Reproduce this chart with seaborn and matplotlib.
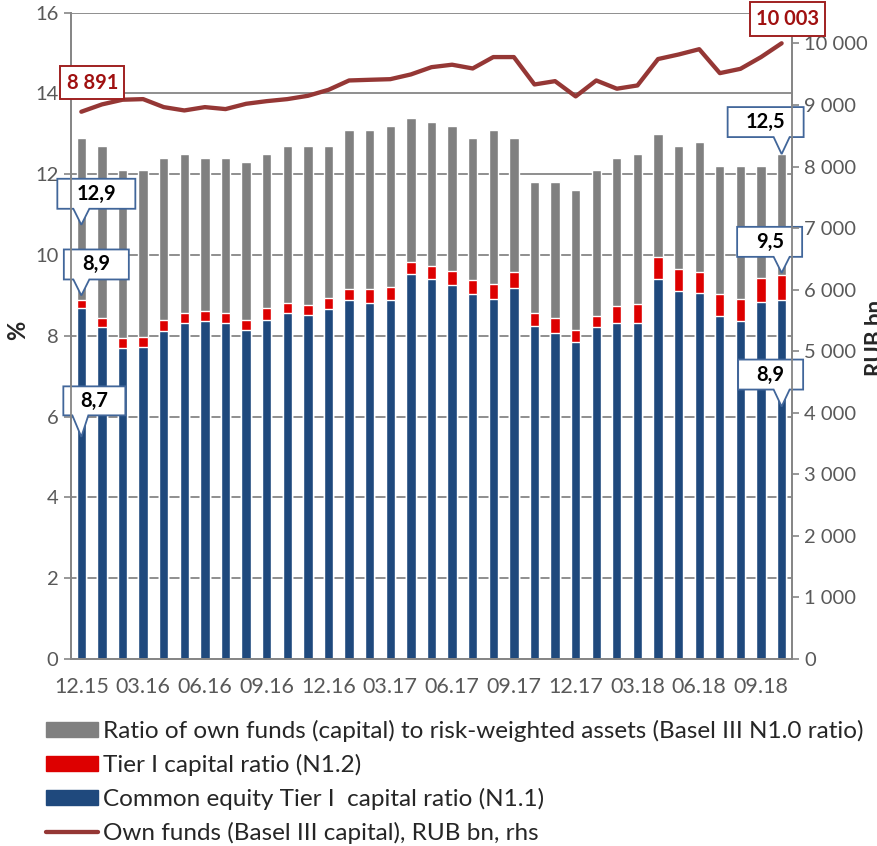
import numpy as np
import matplotlib
matplotlib.use("Agg")
import matplotlib.pyplot as plt
import seaborn as sns
from matplotlib.path import Path
from matplotlib.patches import Patch
from matplotlib.lines import Line2D

# monthly data, 12.15 - 10.18
months = ["12.15", "01.16", "02.16", "03.16", "04.16", "05.16", "06.16", "07.16",
          "08.16", "09.16", "10.16", "11.16", "12.16", "01.17", "02.17", "03.17",
          "04.17", "05.17", "06.17", "07.17", "08.17", "09.17", "10.17", "11.17",
          "12.17", "01.18", "02.18", "03.18", "04.18", "05.18", "06.18", "07.18",
          "08.18", "09.18", "10.18"]
n10 = [12.9, 12.7, 12.1, 12.1, 12.4, 12.5, 12.4, 12.4, 12.3, 12.5, 12.7, 12.7,
       12.7, 13.1, 13.1, 13.2, 13.4, 13.3, 13.2, 12.9, 13.1, 12.9, 11.8, 11.8,
       11.6, 12.1, 12.4, 12.5, 13.0, 12.7, 12.8, 12.2, 12.2, 12.2, 12.5]
n12 = [8.9, 8.45, 7.94, 7.97, 8.39, 8.57, 8.62, 8.57, 8.4, 8.7, 8.81, 8.76,
       8.94, 9.17, 9.17, 9.21, 9.84, 9.74, 9.61, 9.39, 9.29, 9.59, 8.57, 8.44,
       8.15, 8.48, 8.75, 8.79, 9.94, 9.66, 9.59, 9.03, 8.92, 9.43, 9.5]
n11 = [8.7, 8.21, 7.69, 7.73, 8.13, 8.31, 8.38, 8.31, 8.15, 8.4, 8.56, 8.51,
       8.66, 8.9, 8.82, 8.89, 9.54, 9.41, 9.25, 9.03, 8.92, 9.19, 8.24, 8.07,
       7.84, 8.21, 8.31, 8.32, 9.41, 9.11, 9.05, 8.48, 8.38, 8.85, 8.9]
own_funds = [8891, 9010, 9086, 9096, 8966, 8912, 8966, 8934, 9020, 9063, 9096, 9150,
             9247, 9399, 9410, 9420, 9497, 9615, 9655, 9594, 9779, 9779, 9334, 9388,
             9140, 9399, 9265, 9318, 9747, 9821, 9907, 9518, 9588, 9779, 10003]

GRAY, RED, BLUE, LINE = "#808080", "#dd0000", "#1f497d", "#953735"
TXT = "#595959"

sns.set_style("white")
plt.rcParams["font.family"] = ["Lato", "DejaVu Sans"]

fig = plt.figure(figsize=(8.77, 8.46), dpi=100)
ax = fig.add_axes([0.081, 0.221, 0.822, 0.764])

for vals, col in [(n10, GRAY), (n12, RED), (n11, BLUE)]:
    sns.barplot(x=months, y=vals, color=col, saturation=1, width=0.45,
                ax=ax, zorder=2)

ax2 = ax.twinx()
sns.lineplot(x=np.arange(len(months)), y=own_funds, color=LINE, lw=3.1, ax=ax2)

ax.set_xlim(-0.5, len(months) - 0.5)
ax.set_ylim(0, 16)
ax.set_yticks(np.arange(0, 17, 2))
ax2.set_ylim(0, 10500)
ax2.set_yticks(np.arange(0, 10001, 1000))
ax2.set_yticklabels([f"{v:,}".replace(",", " ") for v in range(0, 10001, 1000)])

# ticks between categories, labels on every third category
ax.set_xticks(np.arange(-0.5, len(months) - 1, 3))
ax.set_xticklabels([])
ax.set_xticks(np.arange(0, len(months), 3), minor=True)
ax.set_xticklabels(months[::3], minor=True)
ax.tick_params(axis="x", which="major", length=6, width=1.2, color="#868686", direction="out")
ax.tick_params(axis="x", which="minor", length=0, pad=13, labelsize=15.5, labelcolor=TXT)
ax.tick_params(axis="y", length=5, width=1.2, color="#868686", labelsize=14.5,
               labelcolor=TXT, pad=4)
ax2.tick_params(axis="y", length=5, width=1.2, color="#868686", labelsize=14.5,
                labelcolor=TXT, pad=4)

ax.set_axisbelow(True)
ax.yaxis.grid(True, color="#868686", lw=1.3)
for a in (ax, ax2):
    a.set_xlabel("")
    a.set_ylabel("")
    a.spines["top"].set_visible(False)
    for s in ("left", "right", "bottom"):
        a.spines[s].set_color("#868686")
        a.spines[s].set_linewidth(1.3)

fig.text(0.02, 0.61, "%", rotation=90, fontsize=17, fontweight="bold",
         ha="center", va="center")
fig.text(0.986, 0.60, "RUB bn", rotation=90, fontsize=16, fontweight="bold",
         ha="left", va="center")


def callout_style(w, h, tip_dx=0, tip_len=0, base_dx=0, base_w=16):
    def style(x0, y0, width, height, mutation_size):
        cx, cy = x0 + width / 2, y0 + height / 2
        l, r, b, t = cx - w / 2, cx + w / 2, cy - h / 2, cy + h / 2
        verts = [(l, b), (l, t), (r, t), (r, b)]
        if tip_len:
            bc = cx + base_dx
            verts += [(bc + base_w / 2, b), (cx + tip_dx, b - tip_len), (bc - base_w / 2, b)]
        verts += [(l, b), (l, b)]
        return Path(verts, closed=True)
    return style


def fmt(v):
    return f"{v:.1f}".replace(".", ",")


# bar callouts: (text, bar index, tip y, dx, dy, box w, box h, base dx)
callouts = [
    (fmt(n10[0]), 0, 10.75, 15, 31, 78, 30, -15),
    (fmt(n12[0]), 0, 9.0, 15, 31, 65, 30, -15),
    (fmt(n11[0]), 0, 5.5, 13, 36, 62, 29, -14),
    (fmt(n10[-1]), 34, 12.5, -16, 32, 76, 30, 16),
    (fmt(n12[-1]), 34, 9.56, -12, 31, 65, 30, 12),
    (fmt(n11[-1]), 34, 6.25, -11, 32, 65, 30, 11),
]
for text, i, ty, dx, dy, w, h, bdx in callouts:
    ax.annotate(text, xy=(i, ty), xytext=(dx, dy), textcoords="offset pixels",
                ha="center", va="center", fontsize=14.5, fontweight="bold",
                color="black", annotation_clip=False, zorder=5,
                bbox=dict(boxstyle=callout_style(w, h, -dx, dy - h / 2, bdx),
                          fc="white", ec="#41669a", lw=1.3))

for i, dx, dy, w, h in [(0, 11, 29, 64, 33), (len(months) - 1, 6, 24, 75, 34)]:
    label = f"{own_funds[i]:,}".replace(",", " ")
    ax2.annotate(label, xy=(i, own_funds[i]), xytext=(dx, dy), textcoords="offset pixels",
                 ha="center", va="center", fontsize=14.5, fontweight="bold",
                 color="#a01010", annotation_clip=False, zorder=5,
                 bbox=dict(boxstyle=callout_style(w, h), fc="white", ec="#a02020", lw=1.4))

handles = [Patch(color=GRAY), Patch(color=RED), Patch(color=BLUE),
           Line2D([], [], color=LINE, lw=3.1)]
labels = ["Ratio of own funds (capital) to risk-weighted assets (Basel III N1.0 ratio)",
          "Tier I capital ratio (N1.2)",
          "Common equity Tier I  capital ratio (N1.1)",
          "Own funds (Basel III capital), RUB bn, rhs"]
fig.legend(handles, labels, loc="upper left", bbox_to_anchor=(0.052, 0.149),
           frameon=False, fontsize=17.5, handlelength=2.15, handleheight=0.6,
           handletextpad=0.2, labelspacing=0.49, borderpad=0, borderaxespad=0)

fig.savefig("out.png", dpi=100)
